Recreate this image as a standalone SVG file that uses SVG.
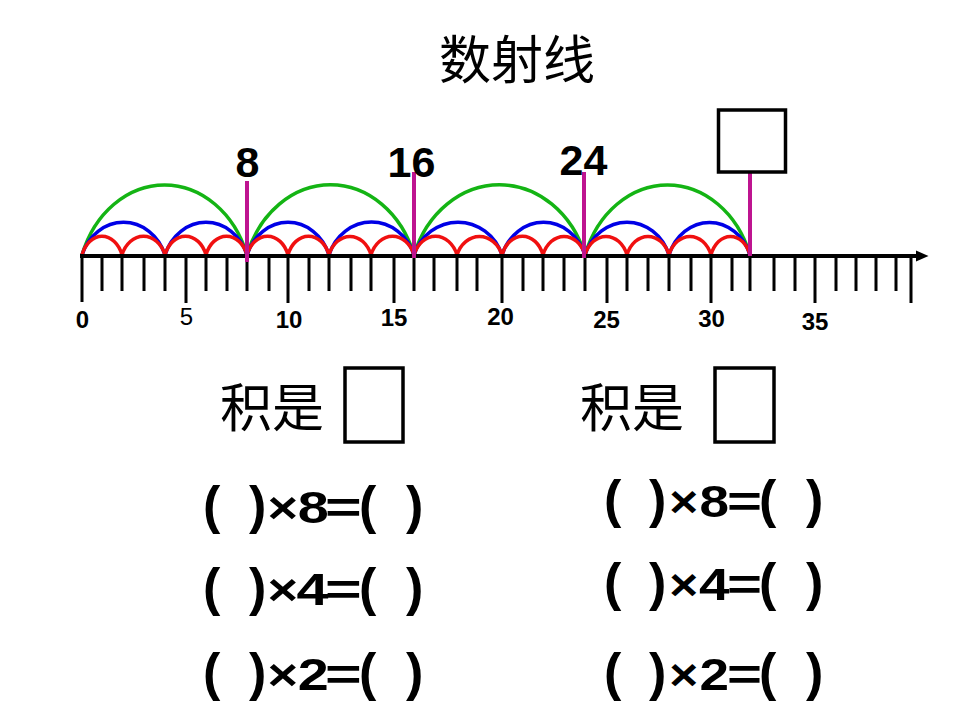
<svg xmlns="http://www.w3.org/2000/svg" width="960" height="720" viewBox="0 0 960 720">
<style>
.cjk{font-family:"Noto Sans CJK SC","Noto Sans CJK JP",sans-serif;font-weight:400;fill:#000}
.num{font-family:"Liberation Sans",Arial,sans-serif;font-weight:bold;fill:#000}
.ax{font-size:24px;text-anchor:middle}
.top{font-size:43px;text-anchor:middle}
.eq{font-size:44px}
.p{font-size:52px}
.tick{stroke:#000;stroke-width:3}
.box{fill:#fff;stroke:#000;stroke-width:3.5}
.mag{stroke:#BE1490;stroke-width:4}
.g{fill:none;stroke:#14B414;stroke-width:3.5}
.b{fill:none;stroke:#0000E6;stroke-width:3.5}
.r{fill:none;stroke:#F01010;stroke-width:3.5}
</style>
<rect width="960" height="720" fill="#fff"/>
<g id="title"><text class="cjk" x="517" y="79" font-size="52" text-anchor="middle">数射线</text></g>

<g id="number-line">
<g id="arcs">
<path class="g" d="M82,255 A87.5,105 0 0 1 247,255 A88.5,105 0 0 1 414,255 A90.6,105 0 0 1 585,255 A87.5,105 0 0 1 750,255"/>
<path class="b" d="M82,255 A44,49 0 0 1 165,255 A43.5,49 0 0 1 247,255 A43.5,49 0 0 1 329,255 A45,49 0 0 1 414,255 A46.6,49 0 0 1 502,255 A44,49 0 0 1 585,255 A44.5,49 0 0 1 669,255 A43,49 0 0 1 750,255"/>
<path class="r" d="M82,255 A21.2,28 0 0 1 122,255 A22.8,28 0 0 1 165,255 A21.7,28 0 0 1 206,255 A21.7,28 0 0 1 247,255 A21.7,28 0 0 1 288,255 A21.7,28 0 0 1 329,255 A22.3,28 0 0 1 371,255 A22.8,28 0 0 1 414,255 A22.8,28 0 0 1 457,255 A23.9,28 0 0 1 502,255 A21.7,28 0 0 1 543,255 A22.3,28 0 0 1 585,255 A22.3,28 0 0 1 627,255 A22.3,28 0 0 1 669,255 A22.3,28 0 0 1 711,255 A20.7,28 0 0 1 750,255"/>
</g>
<g id="axis">
<line x1="80" y1="256" x2="918" y2="256" stroke="#000" stroke-width="4"/>
<polygon points="916,250.5 928.5,256 916,261.5" fill="#000"/>
</g>
<g id="ticks">
<path class="tick" d="M82,256V302 M102,256V291 M122,256V291 M144,256V291 M165,256V291 M186,256V303 M206,256V291 M227,256V291 M247,256V291 M269,256V291 M288,256V303 M309,256V291 M329,256V291 M351,256V291 M371,256V291 M394,256V303 M414,256V291 M434,256V291 M457,256V291 M477,256V291 M502,256V303 M523,256V291 M543,256V291 M564,256V291 M585,256V291 M607,256V303 M627,256V291 M648,256V291 M669,256V291 M691,256V291 M711,256V303 M732,256V291 M750,256V291 M774,256V291 M795,256V291 M815,256V303 M836,256V291 M856,256V291 M876,256V291 M896,256V291 M911,256V303"/>
</g>
<g id="axis-labels">
<text class="num ax" x="82.5" y="328">0</text>
<text class="num ax" x="186.5" y="325" style="font-weight:normal">5</text>
<text class="num ax" x="289" y="328">10</text>
<text class="num ax" x="394" y="326">15</text>
<text class="num ax" x="500.5" y="325">20</text>
<text class="num ax" x="606.5" y="328">25</text>
<text class="num ax" x="711.5" y="327">30</text>
<text class="num ax" x="815" y="330">35</text>
</g>
</g>

<g id="marker-8">
<line class="mag" x1="247" y1="181" x2="247" y2="262"/>
<text class="num top" x="247.5" y="177">8</text>
</g>
<g id="marker-16">
<line class="mag" x1="414" y1="172" x2="414" y2="258"/>
<text class="num top" x="411.5" y="177">16</text>
</g>
<g id="marker-24">
<line class="mag" x1="584" y1="172" x2="584" y2="258"/>
<text class="num top" x="583.5" y="175">24</text>
</g>
<g id="marker-32">
<line class="mag" x1="750" y1="172" x2="750" y2="256"/>
<rect class="box" x="718.5" y="110" width="67" height="62"/>
</g>

<g id="product-left">
<text class="cjk" x="272" y="427" font-size="52" text-anchor="middle">积是</text>
<rect class="box" x="345" y="368" width="58" height="74"/>
</g>
<g id="product-right">
<text class="cjk" x="632" y="427" font-size="52" text-anchor="middle">积是</text>
<rect class="box" x="715" y="368" width="59" height="74"/>
</g>

<g id="equations-left" class="num">
<text class="eq" y="523"><tspan class="p" x="203">(</tspan><tspan class="p" x="249">)</tspan><tspan x="267.4" textLength="30.6" lengthAdjust="spacingAndGlyphs">×</tspan><tspan x="297.8" textLength="31" lengthAdjust="spacingAndGlyphs">8</tspan><tspan x="325" textLength="36.7" lengthAdjust="spacingAndGlyphs">=</tspan><tspan class="p" x="359">(</tspan><tspan class="p" x="406">)</tspan></text>
<text class="eq" y="605"><tspan class="p" x="203">(</tspan><tspan class="p" x="249">)</tspan><tspan x="267.4" textLength="30.6" lengthAdjust="spacingAndGlyphs">×</tspan><tspan x="296.5" textLength="32" lengthAdjust="spacingAndGlyphs">4</tspan><tspan x="325" textLength="36.7" lengthAdjust="spacingAndGlyphs">=</tspan><tspan class="p" x="359">(</tspan><tspan class="p" x="406">)</tspan></text>
<text class="eq" y="690"><tspan class="p" x="203">(</tspan><tspan class="p" x="249">)</tspan><tspan x="267.4" textLength="30.6" lengthAdjust="spacingAndGlyphs">×</tspan><tspan x="297.8" textLength="31" lengthAdjust="spacingAndGlyphs">2</tspan><tspan x="325" textLength="36.7" lengthAdjust="spacingAndGlyphs">=</tspan><tspan class="p" x="359">(</tspan><tspan class="p" x="406">)</tspan></text>
</g>
<g id="equations-right" class="num">
<text class="eq" y="517"><tspan class="p" x="604">(</tspan><tspan class="p" x="649">)</tspan><tspan x="669.2" textLength="29" lengthAdjust="spacingAndGlyphs">×</tspan><tspan x="699.5" textLength="29.5" lengthAdjust="spacingAndGlyphs">8</tspan><tspan x="727" textLength="35" lengthAdjust="spacingAndGlyphs">=</tspan><tspan class="p" x="759">(</tspan><tspan class="p" x="806">)</tspan></text>
<text class="eq" y="600"><tspan class="p" x="604">(</tspan><tspan class="p" x="649">)</tspan><tspan x="669.2" textLength="29" lengthAdjust="spacingAndGlyphs">×</tspan><tspan x="699" textLength="30.5" lengthAdjust="spacingAndGlyphs">4</tspan><tspan x="727" textLength="35" lengthAdjust="spacingAndGlyphs">=</tspan><tspan class="p" x="759">(</tspan><tspan class="p" x="806">)</tspan></text>
<text class="eq" y="690"><tspan class="p" x="604">(</tspan><tspan class="p" x="649">)</tspan><tspan x="669.2" textLength="29" lengthAdjust="spacingAndGlyphs">×</tspan><tspan x="699.5" textLength="29.5" lengthAdjust="spacingAndGlyphs">2</tspan><tspan x="727" textLength="35" lengthAdjust="spacingAndGlyphs">=</tspan><tspan class="p" x="759">(</tspan><tspan class="p" x="806">)</tspan></text>
</g>
</svg>
